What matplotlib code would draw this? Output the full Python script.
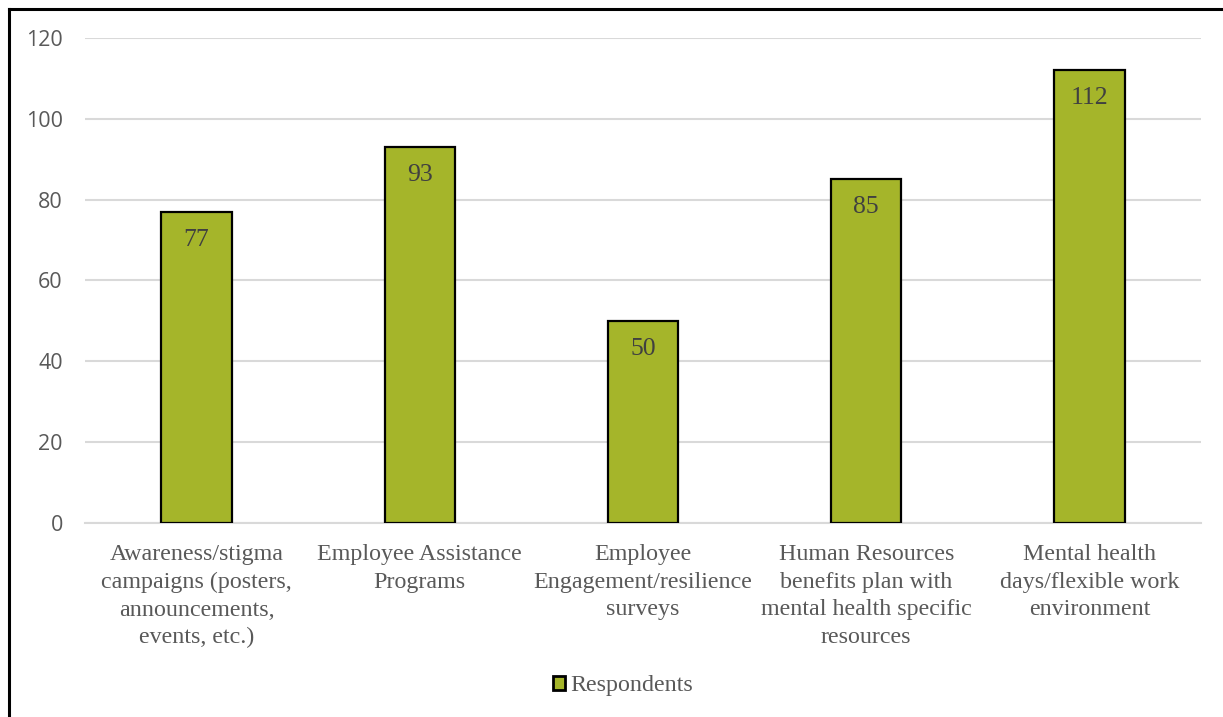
import matplotlib.pyplot as plt
from matplotlib.lines import Line2D

categories = ['Awareness/stigma\ncampaigns (posters,\nannouncements,\nevents, etc.)',
              'Employee Assistance\nPrograms',
              'Employee\nEngagement/resilience\nsurveys',
              'Human Resources\nbenefits plan with\nmental health specific\nresources',
              'Mental health\ndays/flexible work\nenvironment']
respondents = [77, 93, 50, 85, 112]
yticks = [0, 20, 40, 60, 80, 100, 120]

bar_color = '#A5B52A'
text_grey = '#595959'

fig = plt.figure(figsize=(12.23, 7.17), dpi=100)
ax = fig.add_axes([85 / 1223, 1 - 523 / 717, 1116 / 1223, 485 / 717])

x = list(range(len(categories)))
bars = ax.bar(x, respondents, width=0.315, color=bar_color, edgecolor='black',
              linewidth=1.6, label='Respondents', zorder=3)

for b, v in zip(bars, respondents):
    ax.annotate(str(v), (b.get_x() + b.get_width() / 2, v), xytext=(0, -20),
                textcoords='offset points', ha='center', va='center',
                fontsize=18.5, family='Liberation Serif', color='#404040', zorder=4)

ax.set_xlim(-0.5, len(categories) - 0.5)
ax.set_ylim(0, 120)
ax.set_yticks(yticks)
ax.set_yticklabels([str(t) for t in yticks], family='Open Sans', fontsize=15.5, color=text_grey)
ax.set_xticks(x)
ax.set_xticklabels(categories, family='Liberation Serif', fontsize=17.3, color=text_grey,
                   linespacing=1.42)
ax.tick_params(axis='y', length=0, pad=16)
ax.tick_params(axis='x', length=0, pad=15)
ax.grid(axis='y', color='#D9D9D9', linewidth=1.5, zorder=0)
for s in ['left', 'right', 'top']:
    ax.spines[s].set_visible(False)
ax.spines['bottom'].set_color('#D9D9D9')
ax.spines['bottom'].set_linewidth(1.5)

leg = fig.legend(handles=[bars], labels=['Respondents'], loc='center',
                 bbox_to_anchor=(623 / 1223, 1 - 686 / 717),
                 frameon=False, prop={'family': 'Liberation Serif', 'size': 17.3},
                 labelcolor=text_grey, handlelength=0.5, handleheight=0.5, handletextpad=0.2)
for h in leg.legend_handles:
    h.set_linewidth(2)

# outer border (left and top edges only visible in the reference)
fig.add_artist(Line2D([9 / 1223, 9 / 1223], [0, 1 - 9 / 717], color='black', linewidth=2.2))
fig.add_artist(Line2D([9 / 1223, 1], [1 - 9 / 717, 1 - 9 / 717], color='black', linewidth=2.2))

fig.savefig('out.png', dpi=100)
